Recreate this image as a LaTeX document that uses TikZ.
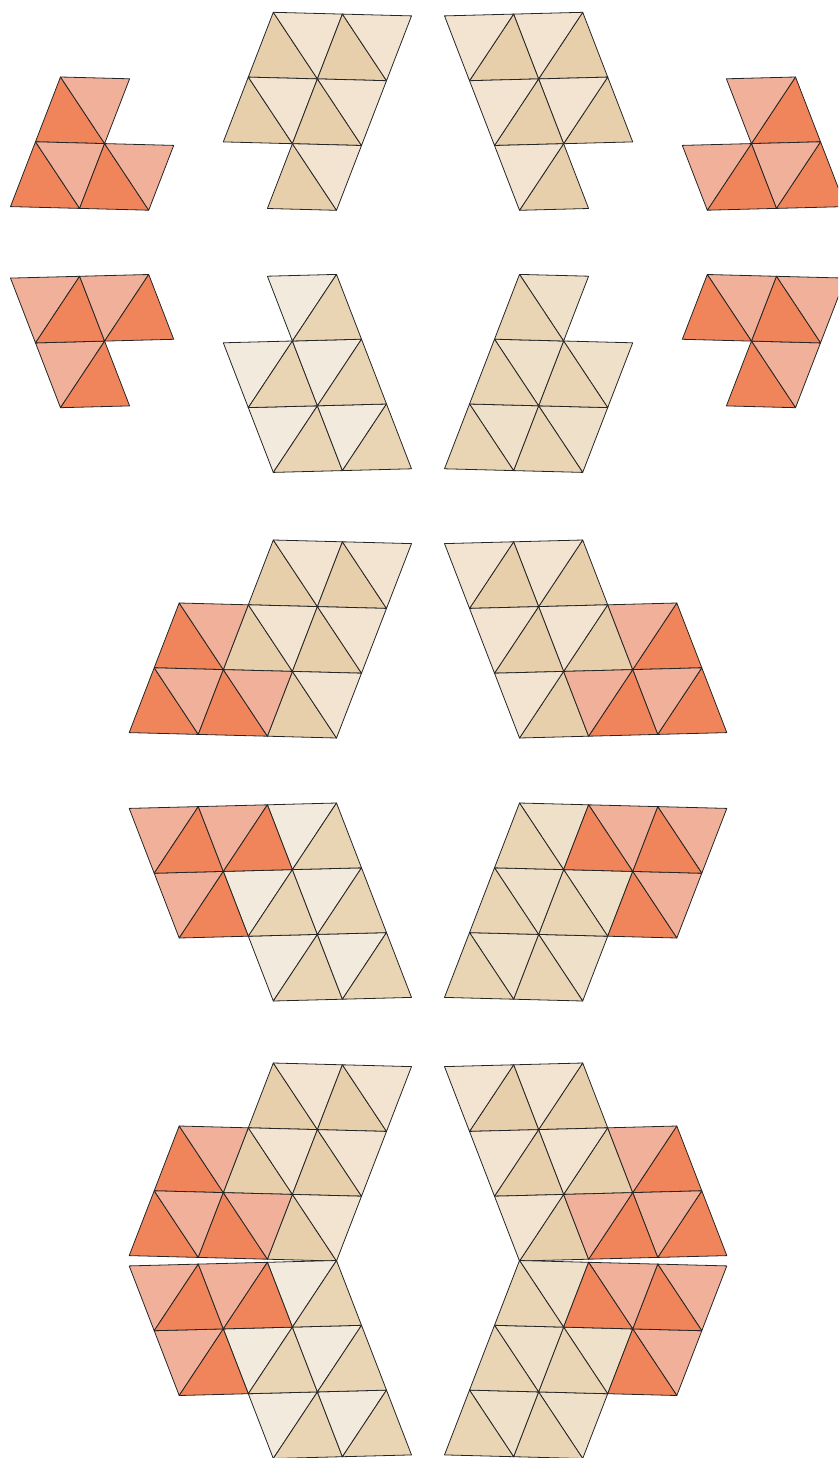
\documentclass[tikz,border=0pt]{standalone}
\usepackage{xcolor}
\usepackage{tikz}
\definecolor{sand}{HTML}{E8CFAB}
\definecolor{sandlt}{HTML}{F2E4D1}
\definecolor{sandb}{HTML}{E9D4B4}
\definecolor{sandblt}{HTML}{F2EADD}
\definecolor{sandclt}{HTML}{EFE0CA}
\definecolor{coral}{HTML}{F0845B}
\definecolor{corallt}{HTML}{F0B09A}
\tikzset{
  tri/.style={draw=black!85,line width=0.8pt,line join=round},
  % skewed triangle lattice; #1 mirrors left/right, #2 mirrors up/down
  lat/.style 2 args={x={(#1*69.1pt,#2*-1.8pt)},y={(#1*-25pt,#2*-64.8pt)}},
}
% one lattice cell = two triangles
\newcommand{\cell}[4]{%
  \filldraw[tri,fill=#3] (#1,#2) -- ++(0,1) -- ++(1,0) -- cycle;
  \filldraw[tri,fill=#4] (#1,#2) -- ++(1,0) -- ++(0,1) -- cycle;}
\newcommand{\sandset}[2]{\foreach \i/\j in {0/0,1/0,0/1,1/1,1/2}{\cell{\i}{\j}{#1}{#2}}}
\newcommand{\coralset}[4]{\foreach \i/\j in {0/0,0/1,1/1}{\cell{\i+#1}{\j+#2}{#3}{#4}}}

\begin{document}
\begin{tikzpicture}[x=1pt,y=1pt]
  \useasboundingbox (0,0) rectangle (838,-1458);
  \clip (0,0) rectangle (838,-1458);
  \foreach \s/\ox/\cx/\lt in {1/273.3/60.5/sandblt,-1/582.7/795.5/sandclt}{
    % separate pieces, first two rows
    \begin{scope}[shift={(\cx,-77)},lat={\s}{1}] \coralset{0}{0}{coral}{corallt} \end{scope}
    \begin{scope}[shift={(\ox,-12.3)},lat={\s}{1}] \sandset{sand}{sandlt} \end{scope}
    \begin{scope}[shift={(\cx,-407.7)},lat={\s}{-1}] \coralset{0}{0}{corallt}{coral} \end{scope}
    \begin{scope}[shift={(\ox,-472.4)},lat={\s}{-1}] \sandset{\lt}{sandb} \end{scope}
    % joined pieces
    \foreach \oy in {540,1063}{
      \begin{scope}[shift={(\ox,-\oy)},lat={\s}{1}]
        \sandset{sand}{sandlt} \coralset{-1}{1}{coral}{corallt}
      \end{scope}}
    \foreach \oy in {1001,1458.5}{
      \begin{scope}[shift={(\ox,-\oy)},lat={\s}{-1}]
        \sandset{\lt}{sandb} \coralset{-1}{1}{corallt}{coral}
      \end{scope}}
  }
\end{tikzpicture}
\end{document}
